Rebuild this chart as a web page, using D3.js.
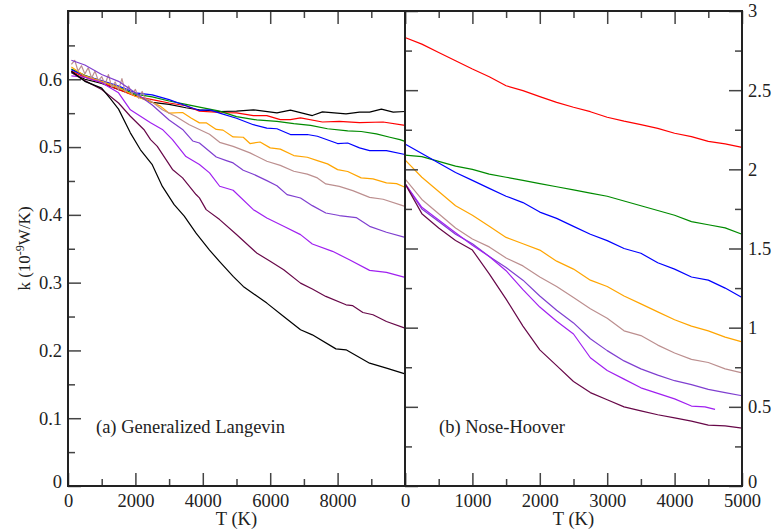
<!DOCTYPE html>
<html>
<head>
    <title>Thermal conductivity vs temperature</title>
    <script src="https://cdnjs.cloudflare.com/ajax/libs/d3/7.8.5/d3.min.js"></script>
    <style>
        body { margin: 0; background: #fff; }
        svg text { font-family: "Liberation Serif", "Times New Roman", serif; fill: #222; }
        .tick line { stroke: #444; stroke-width: 1.5; }
        .frame { fill: none; stroke: #222; stroke-width: 2; }
        .series { fill: none; stroke-width: 1.2; stroke-linejoin: round; }
    </style>
</head>
<body>
    <div id="chart"></div>

    <script>
        // (a) Generalized Langevin, [T (K), k]
        const gl_black1 = [[100,0.610],[500,0.600],[1000,0.594],[1500,0.585],[2000,0.576],[2500,0.566],[3000,0.563],[3500,0.558],[3900,0.555],[4500,0.5525],[5000,0.553],[5500,0.555],[6200,0.5505],[6600,0.5545],[7250,0.5465],[7550,0.552],[8250,0.549],[8650,0.5515],[8950,0.5515],[9300,0.556],[9650,0.5515],[10000,0.5525]];
        const gl_red = [[100,0.612],[500,0.603],[1000,0.595],[1500,0.585],[2000,0.575],[2500,0.570],[3000,0.565],[3500,0.561],[3900,0.553],[4500,0.551],[5000,0.5505],[5500,0.5465],[5900,0.5465],[6300,0.5406],[6600,0.5406],[6900,0.543],[7550,0.537],[8050,0.538],[8650,0.536],[9350,0.537],[10000,0.532]];
        const gl_green = [[100,0.615],[500,0.606],[1000,0.597],[1500,0.588],[2000,0.578],[2500,0.574],[3000,0.568],[3500,0.563],[3900,0.559],[4500,0.553],[5000,0.545],[5600,0.540],[6200,0.538],[6700,0.5345],[7200,0.532],[7700,0.527],[8300,0.524],[8700,0.523],[9150,0.5195],[9550,0.5145],[9850,0.511],[10000,0.5085]];
        const gl_blue = [[100,0.614],[500,0.605],[1000,0.598],[1500,0.590],[2000,0.580],[2500,0.577],[3000,0.570],[3500,0.561],[3900,0.554],[4200,0.555],[4500,0.550],[5000,0.5425],[5500,0.533],[5900,0.528],[6200,0.527],[6600,0.5185],[7100,0.5185],[7400,0.516],[8000,0.5052],[8300,0.506],[8650,0.4988],[8950,0.4948],[9450,0.4948],[10000,0.489]];
        const gl_orange = [[100,0.618],[500,0.605],[1000,0.597],[1500,0.588],[2000,0.575],[2500,0.566],[2750,0.560],[3000,0.550],[3400,0.551],[3650,0.543],[3900,0.5357],[4100,0.5357],[4400,0.526],[4600,0.525],[4900,0.515],[5200,0.5145],[5400,0.5052],[5700,0.5075],[6000,0.4988],[6300,0.497],[6700,0.4875],[7100,0.485],[7400,0.480],[7700,0.4752],[8000,0.4667],[8300,0.464],[8700,0.4545],[9050,0.453],[9450,0.4471],[9750,0.446],[10000,0.4407]];
        const gl_brown = [[100,0.622],[200,0.628],[300,0.612],[400,0.620],[500,0.608],[600,0.617],[700,0.602],[800,0.612],[900,0.598],[1000,0.604],[1100,0.592],[1200,0.607],[1300,0.588],[1400,0.596],[1500,0.584],[1600,0.601],[1700,0.581],[1800,0.590],[1900,0.578],[2000,0.585],[2100,0.572],[2200,0.582],[2300,0.571],[2400,0.570],[2800,0.555],[3200,0.545],[3600,0.533],[3900,0.526],[4200,0.519],[4500,0.507],[4900,0.501],[5400,0.4914],[5900,0.4791],[6300,0.473],[6700,0.4643],[7100,0.460],[7400,0.4545],[7650,0.4456],[8050,0.442],[8450,0.4357],[8950,0.4258],[9350,0.423],[10000,0.4126]];
        const gl_purple = [[100,0.628],[500,0.621],[1000,0.607],[1500,0.597],[2000,0.580],[2500,0.562],[3000,0.540],[3400,0.526],[3700,0.509],[3900,0.506],[4400,0.4854],[4700,0.480],[4900,0.4766],[5200,0.4658],[5500,0.460],[5900,0.4505],[6200,0.443],[6500,0.4298],[6900,0.4249],[7250,0.4136],[7650,0.4027],[8050,0.399],[8550,0.396],[8950,0.3831],[9450,0.3743],[10000,0.3668]];
        const gl_violet = [[100,0.605],[500,0.603],[1000,0.595],[1500,0.580],[1850,0.555],[2450,0.536],[2800,0.526],[3100,0.511],[3500,0.486],[3900,0.4742],[4200,0.4619],[4500,0.4422],[4900,0.4363],[5500,0.4077],[5900,0.3954],[6400,0.3831],[6900,0.3708],[7250,0.357],[7850,0.3462],[8350,0.3339],[8950,0.3181],[9450,0.3151],[10000,0.3077]];
        const gl_maroon = [[100,0.610],[500,0.598],[1000,0.585],[1500,0.565],[1850,0.5455],[2250,0.526],[2450,0.511],[2650,0.501],[3100,0.467],[3400,0.4545],[3800,0.430],[3900,0.425],[4100,0.4077],[4500,0.393],[5000,0.371],[5600,0.3437],[6000,0.3314],[6400,0.319],[6900,0.2993],[7250,0.2905],[7650,0.2797],[8250,0.2673],[8450,0.266],[8750,0.256],[9050,0.2526],[9450,0.2427],[10000,0.2329]];
        const gl_black2 = [[100,0.612],[500,0.597],[1000,0.587],[1250,0.572],[1500,0.556],[1850,0.521],[2150,0.496],[2500,0.474],[2800,0.442],[3150,0.415],[3450,0.398],[3800,0.373],[4200,0.348],[4500,0.331],[4900,0.3092],[5200,0.2944],[5900,0.2698],[6400,0.2501],[6900,0.2304],[7250,0.223],[7950,0.2023],[8250,0.2009],[8950,0.1812],[9450,0.1738],[10000,0.1654]];

        // (b) Nose-Hoover, k at temperatures nhT (violet stops at 4600 K)
        const nhT = [0,250,500,750,1000,1250,1500,1750,2000,2250,2500,2750,3000,3250,3500,3750,4000,4250,4500,4750,5000];
        const nhVioletT = [0,250,500,750,1000,1250,1500,1750,2000,2250,2500,2750,3000,3250,3500,3750,4000,4250,4450,4600];
        const nh_red = [2.833,2.791,2.738,2.686,2.634,2.585,2.528,2.497,2.459,2.423,2.392,2.364,2.329,2.304,2.282,2.259,2.228,2.207,2.177,2.161,2.139];
        const nh_green = [2.09,2.08,2.05,2.02,2.00,1.97,1.95,1.93,1.91,1.89,1.87,1.85,1.83,1.80,1.77,1.74,1.71,1.67,1.65,1.63,1.59];
        const nh_blue = [2.16,2.10,2.04,1.98,1.93,1.88,1.83,1.79,1.73,1.69,1.64,1.59,1.55,1.50,1.47,1.41,1.37,1.32,1.30,1.25,1.19];
        const nh_orange = [2.06,1.95,1.86,1.77,1.71,1.64,1.57,1.53,1.49,1.42,1.37,1.30,1.26,1.20,1.15,1.10,1.05,1.01,0.98,0.94,0.91];
        const nh_brown = [1.94,1.81,1.72,1.63,1.56,1.51,1.44,1.39,1.32,1.26,1.19,1.12,1.06,0.98,0.95,0.89,0.84,0.80,0.78,0.74,0.715];
        const nh_purple = [1.91,1.75,1.67,1.59,1.53,1.45,1.38,1.30,1.20,1.11,1.03,0.93,0.855,0.79,0.74,0.70,0.665,0.64,0.61,0.59,0.57];
        const nh_violet = [1.91,1.76,1.68,1.60,1.52,1.45,1.36,1.24,1.13,1.04,0.96,0.81,0.73,0.675,0.62,0.585,0.55,0.505,0.50,0.484];
        const nh_maroon = [1.91,1.72,1.63,1.55,1.49,1.34,1.18,1.01,0.86,0.76,0.66,0.59,0.545,0.50,0.475,0.45,0.43,0.41,0.385,0.38,0.365];

        // ticks
        const leftXMajor = [0,2000,4000,6000,8000,10000];
        const leftXMinor = [1000,3000,5000,7000,9000];
        const leftYMajor = [0,0.1,0.2,0.3,0.4,0.5,0.6];
        const leftYMinor = [0.05,0.15,0.25,0.35,0.45,0.55,0.65];
        const rightXMajor = [0,1000,2000,3000,4000,5000];
        const rightXMinor = [500,1500,2500,3500,4500];
        const rightYMajor = [0,0.5,1,1.5,2,2.5,3];
        const rightYMinor = [0.25,0.75,1.25,1.75,2.25,2.75];

        const width = 774;
        const height = 531;
        const plotTop = 11, plotBottom = 486;
        const xa = 68, xb = 405, xc = 742;
        const majorLen = 13, minorLen = 7;
        const fontSize = '18.5px';

        const svg = d3.select('#chart')
            .append('svg')
            .attr('width', width)
            .attr('height', height);

        const xL = d3.scaleLinear().domain([0, 10000]).range([xa, xb]);
        const yL = d3.scaleLinear().domain([0, 0.7]).range([plotBottom, plotTop + 0.5]);
        const xR = d3.scaleLinear().domain([0, 5000]).range([xb, xc]);
        const yR = d3.scaleLinear().domain([0, 3]).range([plotBottom, plotTop]);

        const line = (x, y) => d3.line().x(d => x(d[0])).y(d => y(d[1]));

        // left panel lines
        const leftSeries = [
            [gl_black1, '#000000'], [gl_red, '#ff0000'], [gl_green, '#008b00'],
            [gl_blue, '#0000ff'], [gl_orange, '#ffa500'], [gl_brown, '#bc8f8f'],
            [gl_purple, '#7f3fd0'], [gl_violet, '#a020f0'], [gl_maroon, '#670748'],
            [gl_black2, '#000000']
        ];
        svg.append('g').selectAll('path')
            .data(leftSeries)
            .join('path')
            .attr('class', 'series')
            .attr('stroke', d => d[1])
            .attr('d', d => line(xL, yL)(d[0]));

        // right panel lines
        const rightSeries = [
            [nhT, nh_red, '#ff0000'], [nhT, nh_green, '#008b00'], [nhT, nh_blue, '#0000ff'],
            [nhT, nh_orange, '#ffa500'], [nhT, nh_brown, '#bc8f8f'], [nhT, nh_purple, '#7f3fd0'],
            [nhVioletT, nh_violet, '#a020f0'], [nhT, nh_maroon, '#670748']
        ];
        svg.append('g').selectAll('path')
            .data(rightSeries)
            .join('path')
            .attr('class', 'series')
            .attr('stroke', d => d[2])
            .attr('d', d => line(xR, yR)(d[1].map((v, i) => [d[0][i], v])));

        // axes helper: ticks point inward
        function addAxis(axis, tx, ty, labels) {
            const g = svg.append('g')
                .attr('transform', `translate(${tx},${ty})`)
                .call(axis);
            g.select('.domain').remove();
            g.selectAll('text').style('font-size', fontSize);
            if (!labels) g.selectAll('text').remove();
            return g;
        }

        const fmt = d => String(d);
        const noTen = d => d === 10000 ? '' : String(d);

        // left panel: bottom / top / left
        addAxis(d3.axisBottom(xL).tickValues(leftXMajor).tickSize(-majorLen).tickPadding(8).tickFormat(noTen), 0, plotBottom, true);
        addAxis(d3.axisBottom(xL).tickValues(leftXMinor).tickSize(-minorLen), 0, plotBottom, false);
        addAxis(d3.axisTop(xL).tickValues(leftXMajor).tickSize(-majorLen), 0, plotTop, false);
        addAxis(d3.axisTop(xL).tickValues(leftXMinor).tickSize(-minorLen), 0, plotTop, false);
        const leftY = addAxis(d3.axisLeft(yL).tickValues(leftYMajor).tickSize(-majorLen).tickPadding(6).tickFormat(fmt), xa, 0, true);
        addAxis(d3.axisLeft(yL).tickValues(leftYMinor).tickSize(-minorLen), xa, 0, false);

        // right panel: bottom / top / left side / right side
        addAxis(d3.axisBottom(xR).tickValues(rightXMajor).tickSize(-majorLen).tickPadding(8).tickFormat(fmt), 0, plotBottom, true);
        addAxis(d3.axisBottom(xR).tickValues(rightXMinor).tickSize(-minorLen), 0, plotBottom, false);
        addAxis(d3.axisTop(xR).tickValues(rightXMajor).tickSize(-majorLen), 0, plotTop, false);
        addAxis(d3.axisTop(xR).tickValues(rightXMinor).tickSize(-minorLen), 0, plotTop, false);
        addAxis(d3.axisLeft(yR).tickValues(rightYMajor).tickSize(-majorLen), xb, 0, false);
        addAxis(d3.axisLeft(yR).tickValues(rightYMinor).tickSize(-minorLen), xb, 0, false);
        const rightY = addAxis(d3.axisRight(yR).tickValues(rightYMajor).tickSize(-majorLen).tickPadding(6).tickFormat(fmt), xc, 0, true);
        addAxis(d3.axisRight(yR).tickValues(rightYMinor).tickSize(-minorLen), xc, 0, false);

        // the "0" labels of the y axes sit a little above the x labels
        [leftY, rightY].forEach(g => g.selectAll('.tick').filter(d => d === 0)
            .select('text').attr('y', -4));

        // frames
        svg.append('rect').attr('class', 'frame')
            .attr('x', xa).attr('y', plotTop).attr('width', xb - xa).attr('height', plotBottom - plotTop);
        svg.append('rect').attr('class', 'frame')
            .attr('x', xb).attr('y', plotTop).attr('width', xc - xb).attr('height', plotBottom - plotTop);

        // axis titles
        svg.append('text')
            .attr('x', (xa + xb) / 2).attr('y', 525)
            .attr('text-anchor', 'middle').style('font-size', fontSize)
            .text('T (K)');
        svg.append('text')
            .attr('x', (xb + xc) / 2).attr('y', 525)
            .attr('text-anchor', 'middle').style('font-size', fontSize)
            .text('T (K)');

        const yTitle = svg.append('text')
            .attr('transform', `translate(30,${(plotTop + plotBottom) / 2}) rotate(-90)`)
            .attr('text-anchor', 'middle').style('font-size', '17px');
        yTitle.append('tspan').text('k (10');
        yTitle.append('tspan').attr('dy', -6).style('font-size', '12px').text('-9');
        yTitle.append('tspan').attr('dy', 6).text('W/K)');

        // panel notes
        svg.append('text')
            .attr('x', 96).attr('y', 433).style('font-size', fontSize)
            .text('(a) Generalized Langevin');
        svg.append('text')
            .attr('x', 439).attr('y', 433).style('font-size', fontSize)
            .text('(b) Nose-Hoover');
    </script>
</body>
</html>
